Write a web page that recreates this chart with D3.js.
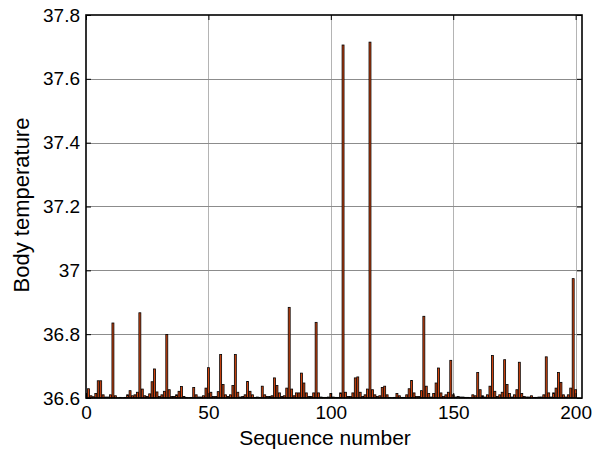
<!DOCTYPE html>
<html>
<head>
<meta charset="utf-8">
<script src="https://cdn.jsdelivr.net/npm/d3@7"></script>
<style>
  html, body { margin: 0; padding: 0; background: #fff; }
  svg { display: block; }
  text { font-family: "Liberation Sans", Arial, Helvetica, sans-serif; fill: #000; }
</style>
</head>
<body>
<svg id="chart" width="608" height="449"></svg>
<script>
// ---- data ----
const temperatures = [
  36.629, 36.607, 36.604, 36.614, 36.654, 36.654, 36.610, 36.603, 36.603, 36.610,
  36.835, 36.607, 36.601, 36.602, 36.601, 36.602, 36.610, 36.623, 36.607, 36.610,
  36.618, 36.867, 36.628, 36.607, 36.605, 36.613, 36.651, 36.691, 36.619, 36.605,
  36.610, 36.621, 36.799, 36.626, 36.605, 36.605, 36.610, 36.621, 36.636, 36.605,
  36.602, 36.601, 36.602, 36.633, 36.610, 36.603, 36.603, 36.607, 36.631, 36.695,
  36.618, 36.605, 36.605, 36.620, 36.736, 36.642, 36.610, 36.605, 36.610, 36.639,
  36.736, 36.618, 36.603, 36.605, 36.610, 36.652, 36.621, 36.610, 36.602, 36.603,
  36.602, 36.637, 36.610, 36.605, 36.605, 36.607, 36.663, 36.639, 36.616, 36.605,
  36.607, 36.631, 36.884, 36.628, 36.607, 36.616, 36.616, 36.678, 36.647, 36.616,
  36.605, 36.605, 36.616, 36.837, 36.616, 36.603, 36.602, 36.602, 36.603, 36.614,
  36.603, 36.602, 36.602, 36.616, 37.706, 36.618, 36.605, 36.605, 36.616, 36.663,
  36.666, 36.618, 36.605, 36.610, 36.628, 37.715, 36.626, 36.610, 36.605, 36.607,
  36.633, 36.637, 36.610, 36.602, 36.601, 36.602, 36.614, 36.607, 36.602, 36.602,
  36.610, 36.629, 36.655, 36.616, 36.605, 36.605, 36.623, 36.856, 36.637, 36.614,
  36.603, 36.614, 36.647, 36.694, 36.616, 36.605, 36.610, 36.618, 36.718, 36.610,
  36.603, 36.605, 36.603, 36.603, 36.602, 36.602, 36.601, 36.610, 36.607, 36.680,
  36.626, 36.607, 36.603, 36.610, 36.637, 36.733, 36.621, 36.605, 36.610, 36.618,
  36.720, 36.642, 36.614, 36.603, 36.610, 36.626, 36.712, 36.614, 36.605, 36.603,
  36.603, 36.607, 36.602, 36.602, 36.603, 36.603, 36.610, 36.729, 36.616, 36.603,
  36.616, 36.631, 36.680, 36.649, 36.610, 36.603, 36.610, 36.631, 36.974, 36.626
];
const sequence = temperatures.map((_, i) => i + 1);
const xTicks = [0, 50, 100, 150, 200];
const yTicks = [36.6, 36.8, 37, 37.2, 37.4, 37.6, 37.8];
const yTickLabels = ["36.6", "36.8", "37", "37.2", "37.4", "37.6", "37.8"];
const xLabel = "Sequence number";
const yLabel = "Body temperature";

// ---- layout ----
const L = 86, R = 582, T = 15, B = 398;
const svg = d3.select("#chart");
const x = d3.scaleLinear().domain([0, 202.6]).range([L, R]);
const y = d3.scaleLinear().domain([36.6, 37.8]).range([B, T]);

// grid
svg.append("g").selectAll("line").data(xTicks.filter(d => d > 0)).join("line")
  .attr("x1", d => Math.round(x(d)) + 0.5).attr("x2", d => Math.round(x(d)) + 0.5)
  .attr("y1", T).attr("y2", B)
  .attr("stroke", "#b4b4b4").attr("stroke-width", 1);
svg.append("g").selectAll("line").data(yTicks.slice(1, -1)).join("line")
  .attr("x1", L).attr("x2", R)
  .attr("y1", d => Math.round(y(d)) + 0.5).attr("y2", d => Math.round(y(d)) + 0.5)
  .attr("stroke", "#8c8c8c").attr("stroke-width", 1);

// bars
const bw = x(0.8) - x(0);
svg.append("g").selectAll("rect").data(sequence).join("rect")
  .attr("x", (d) => x(d) - bw / 2)
  .attr("width", bw)
  .attr("y", (d, i) => y(temperatures[i]))
  .attr("height", (d, i) => Math.max(0, y(36.6) - y(temperatures[i])))
  .attr("fill", "#d0440f")
  .attr("stroke", "#000")
  .attr("stroke-width", 0.8);

// axes (ticks inward)
const xAxis = d3.axisBottom(x).tickValues(xTicks).tickSize(-5).tickPadding(8).tickFormat(d3.format("d"));
const yAxis = d3.axisLeft(y).tickValues(yTicks).tickSize(-5).tickPadding(6).tickFormat((d, i) => yTickLabels[i]);
const gx = svg.append("g").attr("transform", `translate(0,${B})`).call(xAxis);
const gy = svg.append("g").attr("transform", `translate(${L},0)`).call(yAxis);
[gx, gy].forEach(g => {
  g.select(".domain").remove();
  g.selectAll("line").attr("stroke", "#000");
  g.selectAll("text").attr("font-size", 19).attr("font-family", "Liberation Sans, Arial, sans-serif").attr("fill", "#000");
});
// right/top ticks
const gyr = svg.append("g").attr("transform", `translate(${R},0)`)
  .call(d3.axisRight(y).tickValues(yTicks).tickSize(-5).tickFormat(""));
gyr.select(".domain").remove(); gyr.selectAll("line").attr("stroke", "#000");
const gxt = svg.append("g").attr("transform", `translate(0,${T})`)
  .call(d3.axisTop(x).tickValues(xTicks).tickSize(-5).tickFormat(""));
gxt.select(".domain").remove(); gxt.selectAll("line").attr("stroke", "#000");

// box
svg.append("rect").attr("x", L).attr("y", T).attr("width", R - L).attr("height", B - T)
  .attr("fill", "none").attr("stroke", "#000").attr("stroke-width", 1.6);

// labels
svg.append("text").attr("x", 325).attr("y", 445).attr("text-anchor", "middle")
  .attr("font-size", 21).text(xLabel);
svg.append("text").attr("transform", `translate(29,205) rotate(-90)`)
  .attr("text-anchor", "middle").attr("font-size", 22).text(yLabel);
</script>
</body>
</html>
